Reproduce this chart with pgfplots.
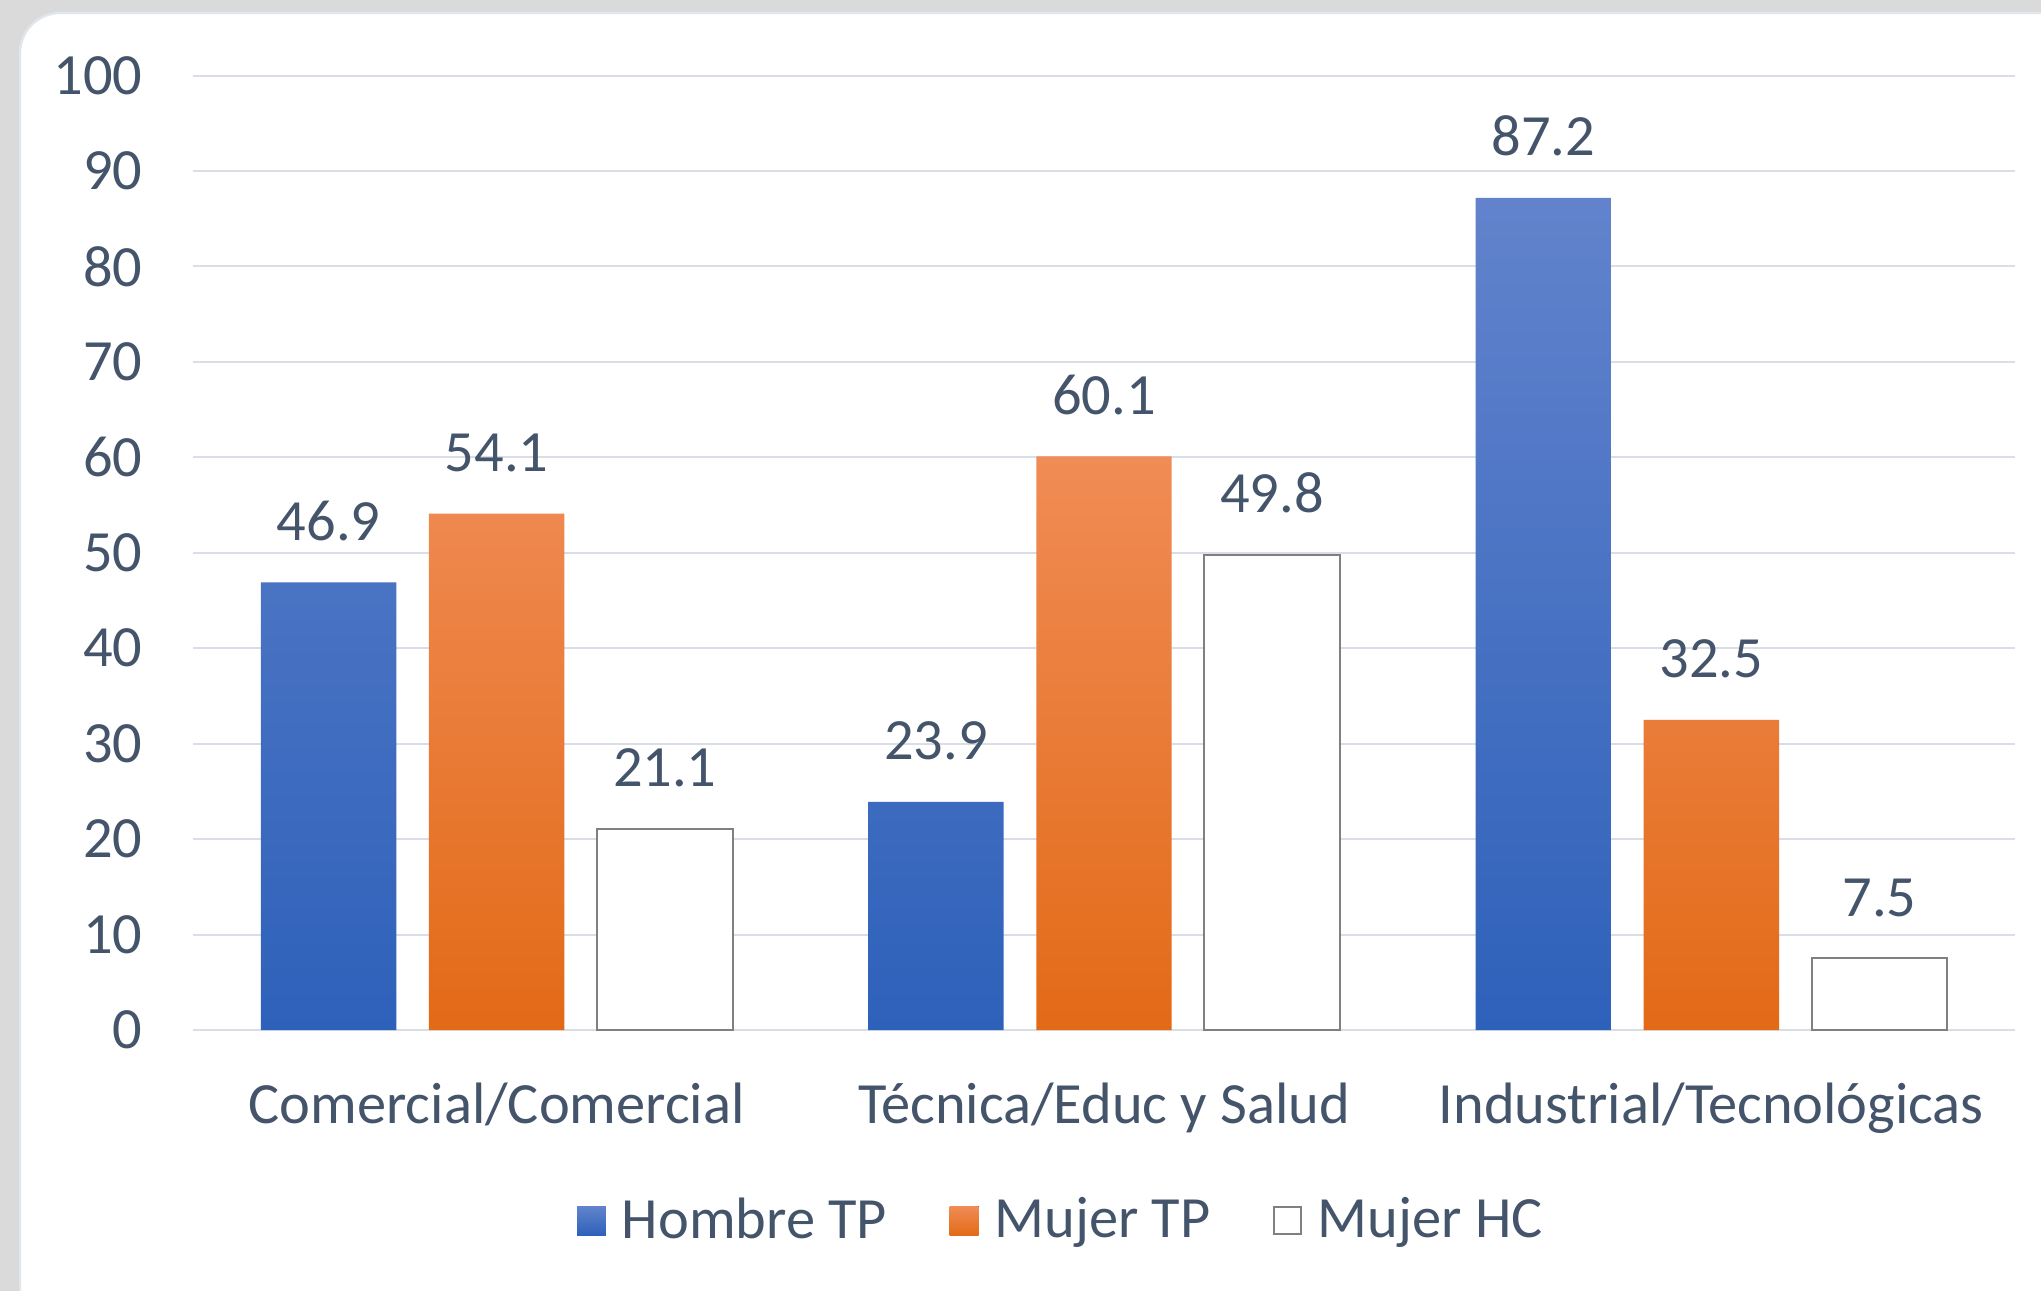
\documentclass[border=0pt]{standalone}
\usepackage{pgfplots}
\pgfplotsset{compat=1.18}
\usepackage{fontspec}
\setmainfont{Carlito}
\definecolor{txt}{RGB}{68,84,106}
\definecolor{gridc}{RGB}{217,222,230}
\definecolor{bgc}{RGB}{218,218,218}
\definecolor{bluet}{RGB}{98,131,204}
\definecolor{bluem}{RGB}{68,114,204}
\definecolor{blueb}{RGB}{46,97,186}
\definecolor{oranget}{RGB}{240,140,85}
\definecolor{orangem}{RGB}{244,125,46}
\definecolor{orangeb}{RGB}{226,106,23}
\definecolor{outl}{RGB}{128,128,128}
\begin{document}
\begin{tikzpicture}
\useasboundingbox (0,0) rectangle (510.25pt,-322.75pt);
\fill[bgc] (0,0) rectangle (510.25pt,-322.75pt);
\fill[white, draw={rgb,255:red,225;green,230;blue,236}, line width=0.6pt, rounded corners=10pt] (5pt,-3.25pt) rectangle (530pt,-340pt);
\begin{axis}[
  at={(48.25pt,-257.5pt)}, anchor=south west,
  scale only axis, width=455.5pt, height=238.6pt,
  xmin=-0.5, xmax=2.5, ymin=0, ymax=100,
  ytick={0,10,...,100},
  xtick={0,1,2},
  xticklabels={Comercial/Comercial, Técnica/Educ y Salud, Industrial/Tecnológicas},
  axis line style={draw=none},
  tick style={draw=none},
  ymajorgrids, grid style={gridc, line width=0.5pt},
  font=\fontsize{14.6}{17}\selectfont,
  tick label style={text=txt},
  /pgf/number format/assume math mode=true,
  yticklabel style={anchor=east, inner sep=0pt, xshift=-12.5pt},
  xticklabel style={anchor=base, inner sep=0pt, yshift=-19pt},
  ybar, bar width=0.223,
  nodes near coords={\pgfmathprintnumber[fixed,precision=1]{\pgfplotspointmeta}},
  every node near coord/.append style={anchor=base, inner sep=0pt, yshift=10.5pt, text=txt, font=\fontsize{14.6}{17}\selectfont},
  legend columns=3,
  legend style={at={(0.478,-0.200)}, anchor=center, draw=none, fill=none, text=txt, font=\fontsize{14.6}{17}\selectfont, inner sep=0pt,
    /tikz/every odd column/.append style={column sep=2pt},
    /tikz/every even column/.append style={column sep=13.7pt}},
  clip=false,
]
\addplot[bar shift=-0.2768, draw=none, top color=bluet, middle color=bluem, bottom color=blueb,
  legend image code/.code={\fill[top color=bluet, bottom color=blueb] (0pt,-3.6pt) rectangle (7.2pt,3.6pt);}]
  coordinates {(0,46.9) (1,23.9) (2,87.2)};
\addplot[bar shift=0, draw=none, top color=oranget, middle color=orangem, bottom color=orangeb,
  legend image code/.code={\fill[top color=oranget, bottom color=orangeb] (0pt,-3.6pt) rectangle (7.2pt,3.6pt);}]
  coordinates {(0,54.1) (1,60.1) (2,32.5)};
\addplot[bar shift=0.2768, draw=outl, fill=white, line width=0.5pt,
  legend image code/.code={\draw[outl, fill=white, line width=0.5pt] (0.25pt,-3.35pt) rectangle (6.95pt,3.35pt);}]
  coordinates {(0,21.1) (1,49.8) (2,7.5)};
\legend{Hombre TP, Mujer TP, Mujer HC}
\end{axis}
\end{tikzpicture}
\end{document}
